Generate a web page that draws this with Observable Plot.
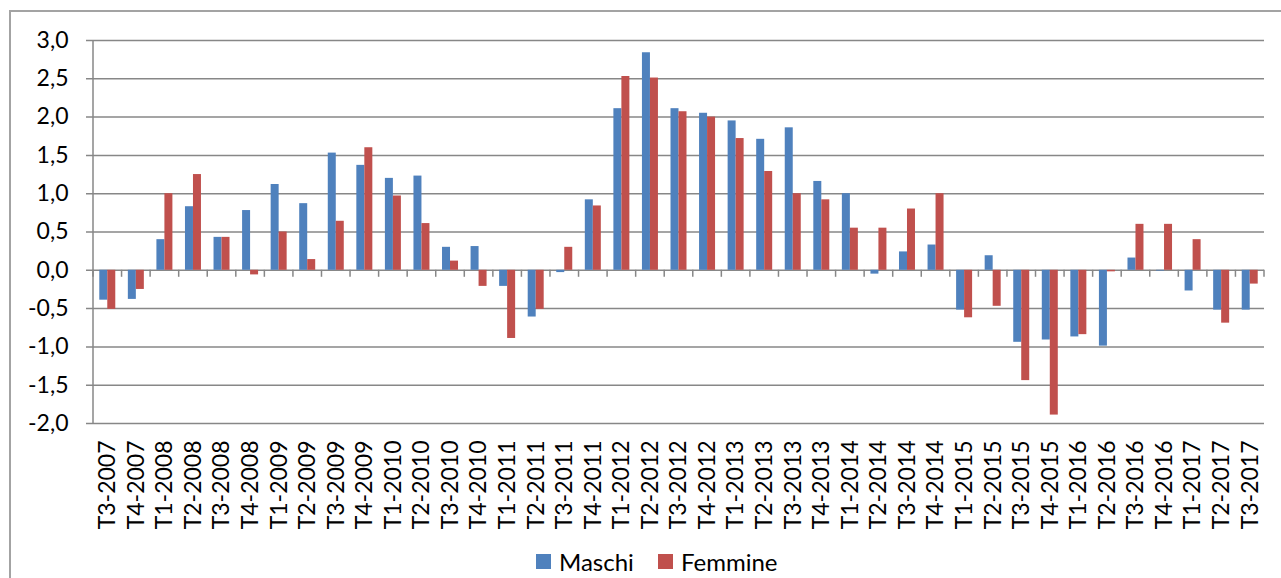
<!DOCTYPE html>
<html><head><meta charset="utf-8">
<script src="https://cdn.jsdelivr.net/npm/d3@7"></script>
<script src="https://cdn.jsdelivr.net/npm/@observablehq/plot@0.6"></script>
<style>
html,body{margin:0;padding:0;background:#fff;overflow:hidden}
#wrap{position:relative;width:1281px;height:578px;overflow:hidden}
#frame{position:absolute;left:9px;top:10px;width:1400px;height:700px;border:2px solid #a3a3a3;box-sizing:border-box}
#chart{position:absolute;left:0;top:0}
.leg{position:absolute;top:547px;font-family:Lato,sans-serif;font-size:24px;color:#000;display:flex;align-items:center;white-space:nowrap}
.sw{display:inline-block;width:15px;height:15px;margin-right:8px}
</style></head>
<body><div id="wrap"><div id="frame"></div><div id="chart"></div>
<div class="leg" style="left:536px"><span class="sw" style="background:#4F81BD"></span>Maschi</div>
<div class="leg" style="left:658px"><span class="sw" style="background:#C0504D"></span>Femmine</div>
</div>
<script>
const categories = ["T3-2007","T4-2007","T1-2008","T2-2008","T3-2008","T4-2008","T1-2009","T2-2009","T3-2009","T4-2009","T1-2010","T2-2010","T3-2010","T4-2010","T1-2011","T2-2011","T3-2011","T4-2011","T1-2012","T2-2012","T3-2012","T4-2012","T1-2013","T2-2013","T3-2013","T4-2013","T1-2014","T2-2014","T3-2014","T4-2014","T1-2015","T2-2015","T3-2015","T4-2015","T1-2016","T2-2016","T3-2016","T4-2016","T1-2017","T2-2017","T3-2017"];
const maschi = [-0.39,-0.38,0.40,0.83,0.43,0.78,1.12,0.87,1.53,1.37,1.20,1.23,0.30,0.31,-0.21,-0.61,-0.03,0.92,2.11,2.84,2.11,2.05,1.95,1.71,1.86,1.16,1.00,-0.05,0.24,0.33,-0.52,0.19,-0.94,-0.91,-0.87,-0.99,0.16,-0.01,-0.27,-0.52,-0.52];
const femmine = [-0.51,-0.25,1.00,1.25,0.43,-0.06,0.50,0.14,0.64,1.60,0.97,0.61,0.12,-0.21,-0.89,-0.51,0.30,0.84,2.53,2.51,2.07,2.00,1.72,1.29,1.00,0.92,0.55,0.55,0.80,1.00,-0.62,-0.47,-1.44,-1.89,-0.84,-0.02,0.60,0.60,0.40,-0.69,-0.18];
const seriesNames = ["Maschi","Femmine"];
const seriesColors = ["#4F81BD","#C0504D"];
const yTicks = [-2,-1.5,-1,-0.5,0,0.5,1,1.5,2,2.5,3];

const rowsM = categories.map((c,i)=>({cat:c, value:maschi[i], serie:seriesNames[0]}));
const rowsF = categories.map((c,i)=>({cat:c, value:femmine[i], serie:seriesNames[1]}));

const W=1281, H=540, ml=93, mr=17, mt=40, mb=117;
const pad = 0.44;
const step = (W-ml-mr)/categories.length;
const bw = step*(1-pad);
const grid = "#878787";

const axisLines = (index, scales, values, dims) => {
  const x = scales.x, y = scales.y;
  const off = step*pad/2;
  const xs = categories.map(c=>x(c)-off);
  xs.push(xs[xs.length-1]+step);
  const g = d3.create("svg:g");
  const y0 = y(0);
  g.selectAll("line.t").data(xs).join("line")
    .attr("x1",d=>d).attr("x2",d=>d).attr("y1",y0).attr("y2",y0+7)
    .attr("stroke",grid).attr("stroke-width",1.5);
  g.append("line").attr("x1",xs[0]).attr("x2",xs[0])
    .attr("y1",y(yTicks[yTicks.length-1])).attr("y2",y(yTicks[0]))
    .attr("stroke",grid).attr("stroke-width",1.5);
  return g.node();
};

const chart = Plot.plot({
  width:W, height:H, marginLeft:ml, marginRight:mr, marginTop:mt, marginBottom:mb,
  style:{fontFamily:"Lato, sans-serif", background:"transparent", color:"#000"},
  x:{type:"band", domain:categories, paddingInner:pad, paddingOuter:pad/2, round:false, label:null},
  y:{domain:[-2,3], label:null},
  marks:[
    Plot.ruleY(yTicks,{stroke:grid, strokeWidth:1.5, insetLeft:-7}),
    Plot.barY(rowsM,{x:"cat", y:"value", fill:seriesColors[0], insetRight:bw/2}),
    Plot.barY(rowsF,{x:"cat", y:"value", fill:seriesColors[1], insetLeft:bw/2}),
    axisLines,
    Plot.axisY({ticks:yTicks, tickSize:0, tickPadding:25, fontSize:23, tickFormat:d=>d.toFixed(1).replace(".",",")}),
    Plot.axisX({tickSize:0, tickRotate:-90, tickPadding:17, fontSize:23})
  ]
});
document.getElementById("chart").appendChild(chart);
</script>
</body></html>
